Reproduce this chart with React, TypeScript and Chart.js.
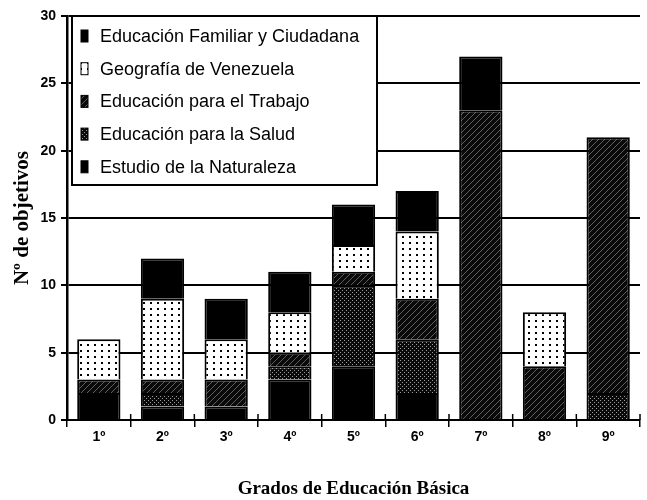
import React, { useEffect, useRef } from 'react';
import { Chart, registerables } from 'chart.js';

Chart.register(...registerables);

const categories = ['1º', '2º', '3º', '4º', '5º', '6º', '7º', '8º', '9º'];
const estudioNaturaleza = [2, 1, 1, 3, 4, 2, 0, 0, 0];
const educacionSalud = [0, 1, 0, 1, 6, 4, 0, 0, 2];
const educacionTrabajo = [1, 1, 2, 1, 1, 3, 23, 4, 19];
const geografiaVenezuela = [3, 6, 3, 3, 2, 5, 0, 4, 0];
const educacionFamiliar = [0, 3, 3, 3, 3, 3, 4, 0, 0];
const yTickValues = [0, 5, 10, 15, 20, 25, 30];

function makePattern(kind: string): CanvasPattern | string {
  const c = document.createElement('canvas');
  const g = c.getContext('2d');
  if (!g) return '#000';
  if (kind === 'dots') {
    c.width = 7; c.height = 6;
    g.fillStyle = '#fff'; g.fillRect(0, 0, 7, 6);
    g.fillStyle = '#000'; g.fillRect(3, 2, 2, 2);
  } else if (kind === 'stipple') {
    c.width = 4; c.height = 4;
    g.fillStyle = '#0a0a0a'; g.fillRect(0, 0, 4, 4);
    g.fillStyle = '#9a9a9a'; g.fillRect(0, 0, 1, 1); g.fillRect(2, 2, 1, 1);
  } else if (kind === 'hatch') {
    c.width = 6; c.height = 6;
    g.fillStyle = '#0a0a0a'; g.fillRect(0, 0, 6, 6);
    g.strokeStyle = '#5e5e5e'; g.lineWidth = 1;
    g.beginPath();
    g.moveTo(0, 6); g.lineTo(6, 0);
    g.moveTo(-3, 3); g.lineTo(3, -3);
    g.moveTo(3, 9); g.lineTo(9, 3);
    g.stroke();
  } else {
    return '#000';
  }
  const p = g.createPattern(c, 'repeat');
  return p || '#000';
}

const boxLegend = {
  id: 'boxLegend',
  afterDraw(chart: any) {
    const ctx = chart.ctx as CanvasRenderingContext2D;
    const xs = chart.scales.x;
    const area = chart.chartArea;
    ctx.save();
    ctx.strokeStyle = '#000';
    ctx.lineWidth = 1.5;
    for (let i = 0; i <= categories.length; i++) {
      const px = xs.getPixelForValue(i - 0.5);
      ctx.beginPath();
      ctx.moveTo(px, area.bottom - 6);
      ctx.lineTo(px, area.bottom);
      ctx.stroke();
    }
    const x0 = 72, y0 = 16, w = 305, h = 169;
    ctx.fillStyle = '#fff';
    ctx.fillRect(x0, y0, w, h);
    ctx.lineWidth = 2;
    ctx.strokeRect(x0, y0, w, h);
    const ds = chart.data.datasets.slice().reverse();
    ctx.font = '18px "Liberation Sans", Arial, sans-serif';
    ctx.textBaseline = 'middle';
    ds.forEach((d: any, i: number) => {
      const cy = 36 + i * 32.7;
      ctx.fillStyle = d.backgroundColor;
      ctx.fillRect(81, cy - 6, 7, 12);
      ctx.lineWidth = 1;
      ctx.strokeStyle = '#000';
      ctx.strokeRect(81, cy - 6, 7, 12);
      ctx.fillStyle = '#000';
      ctx.fillText(d.label, 100, cy + 1);
    });
    ctx.restore();
  },
};

export default function App() {
  const ref = useRef<HTMLCanvasElement | null>(null);
  useEffect(() => {
    if (!ref.current) return;
    Chart.defaults.color = '#000';
    const common = { borderColor: '#000', borderWidth: 2, barPercentage: 0.68, categoryPercentage: 1 };
    const chart = new Chart(ref.current, {
      type: 'bar',
      data: {
        labels: categories,
        datasets: [
          { label: 'Estudio de la Naturaleza', data: estudioNaturaleza, backgroundColor: makePattern('solid'), ...common },
          { label: 'Educación para la Salud', data: educacionSalud, backgroundColor: makePattern('stipple'), ...common },
          { label: 'Educación para el Trabajo', data: educacionTrabajo, backgroundColor: makePattern('hatch'), ...common },
          { label: 'Geografía de Venezuela', data: geografiaVenezuela, backgroundColor: makePattern('dots'), ...common },
          { label: 'Educación Familiar y Ciudadana', data: educacionFamiliar, backgroundColor: makePattern('solid'), ...common },
        ] as any,
      },
      options: {
        responsive: false,
        animation: false,
        layout: { padding: { top: 16, right: 7, left: 0, bottom: 0 } },
        plugins: { legend: { display: false }, tooltip: { enabled: false } },
        scales: {
          x: {
            stacked: true,
            grid: { display: true, drawOnChartArea: false, drawTicks: true, tickLength: 7, color: '#000', lineWidth: 1.5, offset: true },
            border: { display: true, color: '#000', width: 2 },
            ticks: { font: { family: '"Liberation Sans", Arial, sans-serif', size: 14, weight: 'bold' }, padding: 2, color: '#000' },
            title: {
              display: true,
              text: 'Grados de Educación Básica',
              font: { family: '"Liberation Serif", "Times New Roman", serif', size: 19, weight: 'bold' },
              padding: { top: 0, bottom: 0 },
              color: '#000',
            },
            afterFit: (s: any) => { s.height = 80; },
          },
          y: {
            stacked: true,
            min: 0,
            max: 30,
            afterBuildTicks: (s: any) => { s.ticks = yTickValues.map((v) => ({ value: v })); },
            grid: { color: '#000', lineWidth: 2, tickLength: 6 },
            border: { display: true, color: '#000', width: 2.5 },
            ticks: { font: { family: '"Liberation Sans", Arial, sans-serif', size: 14, weight: 'bold' }, padding: 5, color: '#000' },
            title: {
              display: true,
              text: 'Nº de objetivos',
              font: { family: '"Liberation Serif", "Times New Roman", serif', size: 21, weight: 'bold' },
              padding: { top: 10, bottom: 0 },
              color: '#000',
            },
            afterFit: (s: any) => { s.width = 67; },
          },
        },
      } as any,
      plugins: [boxLegend],
    });
    return () => chart.destroy();
  }, []);
  return (
    <div style={{ position: 'absolute', left: 0, top: 0, width: 647, height: 500, background: '#fff' }}>
      <canvas ref={ref} width={647} height={500} />
    </div>
  );
}
